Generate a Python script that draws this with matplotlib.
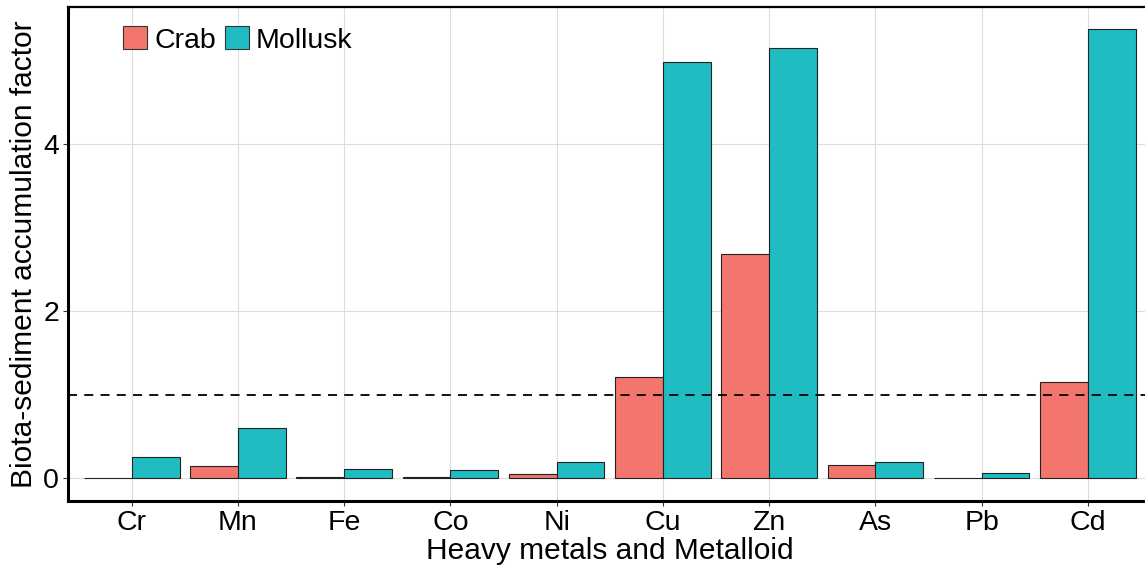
import matplotlib
matplotlib.use("Agg")
import matplotlib.pyplot as plt
import numpy as np
from matplotlib.patches import Patch

metals = ["Cr", "Mn", "Fe", "Co", "Ni", "Cu", "Zn", "As", "Pb", "Cd"]
crab = [0.005, 0.15, 0.02, 0.02, 0.05, 1.21, 2.68, 0.16, 0.005, 1.15]
mollusk = [0.25, 0.60, 0.11, 0.10, 0.19, 4.98, 5.15, 0.19, 0.065, 5.37]
threshold = 1.0

crab_color = "#F3766E"
moll_color = "#1FBDC1"

plt.rcParams['font.family'] = ['Liberation Sans', 'DejaVu Sans']

fig = plt.figure(figsize=(11.45, 5.69), dpi=100)
ax = fig.add_axes([0.0594, 0.120, 1.0057 - 0.0594, 0.988 - 0.120])

x = np.arange(1, len(metals) + 1)
w = 0.45
ax.bar(x - w / 2, crab, width=w, color=crab_color, edgecolor="#222222", linewidth=0.8, zorder=3)
ax.bar(x + w / 2, mollusk, width=w, color=moll_color, edgecolor="#222222", linewidth=0.8, zorder=3)
ax.axhline(threshold, color="black", linestyle=(0, (5, 4)), linewidth=1.3, zorder=4)

ax.set_xlim(0.4, 10.6)
ymax = max(mollusk)
ax.set_ylim(-0.05 * ymax, ymax * 1.05)
ax.set_xticks(x)
ax.set_xticklabels(metals)
ax.set_yticks([0, 2, 4])
ax.grid(True, color="#DDDDDD", linewidth=0.8, zorder=0)
ax.set_axisbelow(True)

for s in ["left", "bottom"]:
    ax.spines[s].set_linewidth(2.2)
    ax.spines[s].set_color("black")
ax.spines["top"].set_linewidth(1.6)
ax.spines["right"].set_visible(False)

ax.tick_params(axis="both", labelsize=20.5, length=3.5, width=0.8, color="#333333", pad=3, labelcolor="black")
ax.set_xlabel("Heavy metals and Metalloid", fontsize=21.5, labelpad=1)
ax.set_ylabel("Biota-sediment accumulation factor", fontsize=21.5, labelpad=4)

handles = [Patch(facecolor=crab_color, edgecolor="#333333", linewidth=0.8, label="Crab"),
           Patch(facecolor=moll_color, edgecolor="#333333", linewidth=0.8, label="Mollusk")]
ax.legend(handles=handles, loc="upper left", bbox_to_anchor=(0.035, 0.995), ncol=2, frameon=False,
          fontsize=20.5, handlelength=0.85, handleheight=0.85, handletextpad=0.25,
          columnspacing=0.3, borderaxespad=0.2)

fig.savefig("out.png", dpi=100)
